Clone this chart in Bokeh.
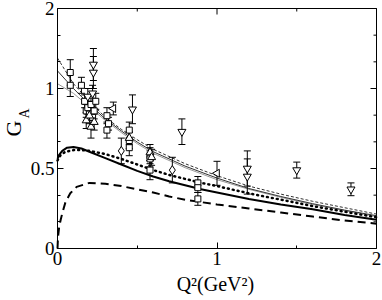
import math
from bokeh.plotting import figure
from bokeh.models import Range1d, FixedTicker
from bokeh.core.properties import value
from bokeh.embed import file_html
from bokeh.resources import INLINE

# ---------------- axes / tick data ----------------
x_lim = [0, 2]
y_lim = [0, 1.5]
x_major_ticks = [0, 1, 2]
x_major_labels = ["0", "1", "2"]
x_minor_ticks = [0.5, 1.5]
y_major_ticks = [0, 0.5, 1.0, 1.5]
y_major_labels = ["0", "0.5", "1", "2"]
y_minor_ticks = [1/6, 1/3, 2/3, 5/6, 7/6, 4/3]

x_title = "Q²(GeV²)"
y_title_main = "G"
y_title_sub = "A"

# ---------------- curves ----------------
thin_x = [0, 0.1, 0.2, 0.3, 0.4, 0.5, 0.6, 0.8, 1.0, 1.2, 1.4, 1.6, 1.8, 2.0]
thin_dashed_y = [1.19, 1.03, 0.92, 0.82, 0.745, 0.68, 0.62, 0.53, 0.455, 0.39, 0.34, 0.295, 0.255, 0.215]
thin_solid_y = [1.11, 1.00, 0.90, 0.81, 0.735, 0.665, 0.605, 0.515, 0.44, 0.375, 0.325, 0.28, 0.24, 0.205]
thin_gray_y = [1.03, 0.97, 0.885, 0.80, 0.725, 0.655, 0.595, 0.505, 0.43, 0.37, 0.32, 0.275, 0.237, 0.20]

solid_x = [0, 0.01, 0.03, 0.06, 0.1, 0.15, 0.2, 0.3, 0.4, 0.5, 0.6, 0.7, 0.8, 0.9, 1.0, 1.2, 1.4, 1.6, 1.8, 2.0]
solid_y = [0.56, 0.585, 0.61, 0.63, 0.635, 0.625, 0.605, 0.565, 0.525, 0.485, 0.45, 0.42, 0.395, 0.37, 0.35, 0.31, 0.275, 0.245, 0.21, 0.18]

dotted_x = [0, 0.02, 0.05, 0.1, 0.15, 0.2, 0.3, 0.4, 0.5, 0.6, 0.7, 0.8, 0.9, 1.0, 1.2, 1.4, 1.6, 1.8, 2.0]
dotted_y = [0.55, 0.585, 0.605, 0.615, 0.615, 0.61, 0.59, 0.56, 0.525, 0.49, 0.46, 0.435, 0.41, 0.39, 0.345, 0.305, 0.265, 0.23, 0.195]

dashed_x = [0, 0.003, 0.01, 0.02, 0.03, 0.05, 0.08, 0.12, 0.2, 0.3, 0.4, 0.5, 0.6, 0.7, 0.8, 1.0, 1.2, 1.4, 1.6, 1.8, 2.0]
dashed_y = [0.0, 0.07, 0.13, 0.18, 0.22, 0.29, 0.345, 0.385, 0.41, 0.405, 0.39, 0.37, 0.35, 0.325, 0.305, 0.275, 0.25, 0.225, 0.2, 0.175, 0.155]

# ---------------- data points ----------------
sq_x = [0.08, 0.08, 0.15, 0.17, 0.18, 0.19, 0.20, 0.21, 0.22, 0.23, 0.24, 0.31, 0.31, 0.32, 0.45, 0.45, 0.45, 0.58, 0.58, 0.58, 0.88, 0.88, 0.88]
sq_y = [1.10, 1.02, 1.02, 0.92, 0.86, 0.88, 0.84, 0.90, 0.82, 0.86, 0.92, 0.83, 0.74, 0.78, 0.74, 0.675, 0.63, 0.58, 0.56, 0.49, 0.41, 0.38, 0.31]
sq_err = [0.08, 0.07, 0.05, 0.04, 0.04, 0.04, 0.04, 0.04, 0.04, 0.05, 0.05, 0.05, 0.05, 0.04, 0.05, 0.05, 0.05, 0.05, 0.05, 0.06, 0.04, 0.03, 0.04]

tdown_x = [0.225, 0.225, 0.47, 0.78, 1.19, 1.19, 1.50, 1.84, 0.19, 0.22]
tdown_y = [1.15, 1.10, 0.87, 0.73, 0.50, 0.45, 0.49, 0.37, 0.95, 0.97]
tdown_err = [0.10, 0.10, 0.09, 0.08, 0.11, 0.11, 0.05, 0.04, 0.05, 0.05]

tup_x = [0.18, 0.20, 0.21, 0.23, 0.45, 0.58, 0.59]
tup_y = [0.80, 0.83, 0.76, 0.79, 0.69, 0.60, 0.57]
tup_err = [0.05, 0.05, 0.07, 0.05, 0.04, 0.05, 0.05]

tleft_x = [0.35, 1.00]
tleft_y = [0.875, 0.47]
tleft_err = [0.04, 0.075]

dia_x = [0.40, 0.72]
dia_y = [0.61, 0.49]
dia_err = [0.08, 0.08]

FONT = "Liberation Serif"

# ---------------- layout (pixels) ----------------
W, H = 382, 300
left_px, right_px = 57, 376       # x = 0 and x = 2
top_px, bottom_px = 8, 248        # y = 1.5 and y = 0
xs_per_px = (x_lim[1] - x_lim[0]) / (right_px - left_px)
ys_per_px = (y_lim[1] - y_lim[0]) / (bottom_px - top_px)
x_range = Range1d(x_lim[0] - left_px * xs_per_px, x_lim[1] + (W - right_px) * xs_per_px)
y_range = Range1d(y_lim[0] - (H - bottom_px) * ys_per_px, y_lim[1] + top_px * ys_per_px)

p = figure(width=W, height=H, x_range=x_range, y_range=y_range,
           output_backend="svg", toolbar_location=None, min_border=0)
p.grid.visible = False
p.outline_line_color = None
p.background_fill_color = "white"
p.border_fill_color = "white"


def style_axis(ax, ticks, minor, labels, loc, bounds):
    ax.fixed_location = loc
    ax.bounds = tuple(bounds)
    ax.ticker = FixedTicker(ticks=ticks, minor_ticks=minor)
    ax.axis_line_color = "black"
    ax.major_tick_line_color = "black"
    ax.minor_tick_line_color = "black"
    ax.major_tick_in = 6
    ax.major_tick_out = 0
    ax.minor_tick_in = 3
    ax.minor_tick_out = 0
    ax.major_label_overrides = {t: l for t, l in zip(ticks, labels)}
    ax.major_label_text_font = FONT
    ax.major_label_text_font_size = "19px"
    ax.major_label_text_color = "black"
    ax.major_label_standoff = 3


style_axis(p.xaxis[0], x_major_ticks, x_minor_ticks, x_major_labels, y_lim[0], x_lim)
style_axis(p.yaxis[0], y_major_ticks, y_minor_ticks, y_major_labels, x_lim[0], y_lim)

# y title: main letter as the axis label (rotated by the axis itself)
yax = p.yaxis[0]
yax.axis_label = y_title_main
yax.axis_label_text_font = FONT
yax.axis_label_text_font_size = "22px"
yax.axis_label_text_font_style = "normal"
yax.axis_label_text_color = "black"
yax.axis_label_standoff = 2

# top and right edges of the box, with mirrored inward ticks
p.line([x_lim[0], x_lim[1], x_lim[1]], [y_lim[1], y_lim[1], y_lim[0]], line_color="black", line_width=1)
p.ray(x=x_major_ticks, y=[y_lim[1]] * len(x_major_ticks), length=6, length_units="screen",
      angle=-math.pi / 2, line_color="black", line_width=1)
p.ray(x=x_minor_ticks, y=[y_lim[1]] * len(x_minor_ticks), length=3, length_units="screen",
      angle=-math.pi / 2, line_color="black", line_width=1)
p.ray(x=[x_lim[1]] * len(y_major_ticks), y=y_major_ticks, length=6, length_units="screen",
      angle=math.pi, line_color="black", line_width=1)
p.ray(x=[x_lim[1]] * len(y_minor_ticks), y=y_minor_ticks, length=3, length_units="screen",
      angle=math.pi, line_color="black", line_width=1)

# curves
p.line(thin_x, thin_gray_y, line_color="#9a9a9a", line_width=1)
p.line(thin_x, thin_solid_y, line_color="#333333", line_width=1)
p.line(thin_x, thin_dashed_y, line_color="#333333", line_width=1, line_dash="3 2")
p.line(solid_x, solid_y, line_color="black", line_width=2)
p.line(dotted_x, dotted_y, line_color="black", line_width=2.5, line_dash="1 4", line_cap="round")
p.line(dashed_x, dashed_y, line_color="black", line_width=2, line_dash="8 5")


def errbars(xs, ys, es):
    lo = [y - e for y, e in zip(ys, es)]
    hi = [y + e for y, e in zip(ys, es)]
    p.segment(x0=xs, y0=lo, x1=xs, y1=hi, line_color="black", line_width=1)
    p.scatter(xs, lo, marker="dash", size=7, line_color="black", line_width=1)
    p.scatter(xs, hi, marker="dash", size=7, line_color="black", line_width=1)


for xs, ys, es in [(sq_x, sq_y, sq_err), (tdown_x, tdown_y, tdown_err), (tup_x, tup_y, tup_err),
                   (tleft_x, tleft_y, tleft_err), (dia_x, dia_y, dia_err)]:
    errbars(xs, ys, es)

common = dict(fill_color="white", line_color="black", line_width=1)
p.scatter(sq_x, sq_y, marker="square", size=6, **common)
p.scatter(tdown_x, tdown_y, marker="inverted_triangle", size=8, **common)
p.scatter(tup_x, tup_y, marker="triangle", size=8, **common)
p.scatter(tleft_x, tleft_y, marker="triangle", angle=math.pi / 2, size=8, **common)
p.scatter(dia_x, dia_y, marker="diamond", size=9, **common)

# x title and y-title subscript, placed in the margin area of the frame
p.text(x=[(x_lim[0] + x_lim[1]) / 2 - 0.01], y=[y_lim[0] - 35 * ys_per_px], text=[x_title],
       text_align="center", text_baseline="middle", text_font=value(FONT),
       text_font_size="20px", text_color="black")
p.text(x=[x_lim[0] - 33 * xs_per_px], y=[y_lim[0] + 135 * ys_per_px], text=[y_title_sub],
       angle=math.pi / 2, text_align="center", text_baseline="middle", text_font=value(FONT),
       text_font_size="14px", text_color="black")

open("out.html", "w").write(file_html(p, INLINE))
